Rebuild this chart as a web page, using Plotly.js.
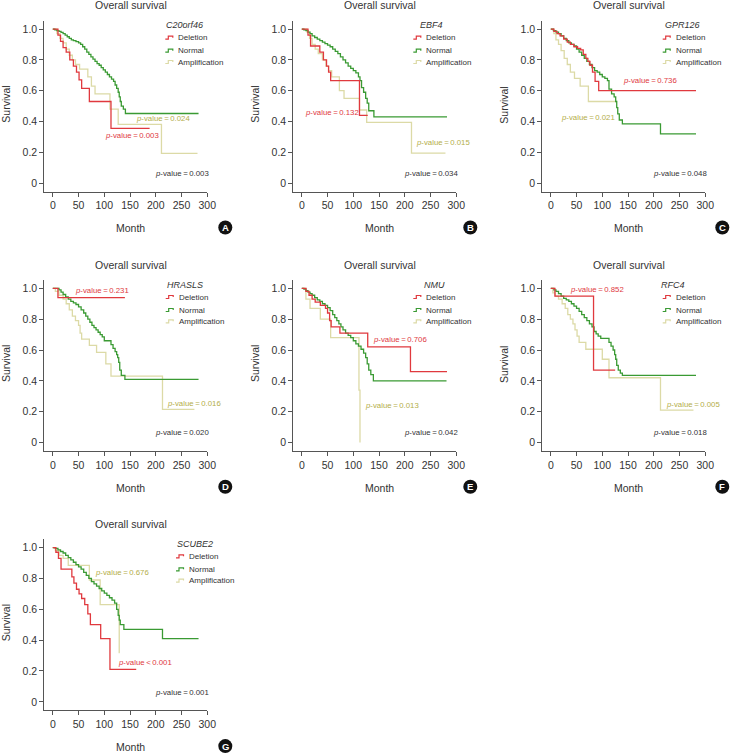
<!DOCTYPE html>
<html>
<head>
<meta charset="utf-8">
<script src="https://cdn.plot.ly/plotly-3.0.1.min.js"></script>
<style>
  html, body { margin: 0; padding: 0; background: #fff; }
  #chart { width: 731px; height: 754px; }
</style>
</head>
<body>
<div id="chart"></div>
<script>
// gene panels and groups
const genes = ['C20orf46', 'EBF4', 'GPR126', 'HRASLS', 'NMU', 'RFC4', 'SCUBE2'];
const panelLetters = ['A', 'B', 'C', 'D', 'E', 'F', 'G'];
const groups = ['Deletion', 'Normal', 'Amplification'];
const xTicks = [0, 50, 100, 150, 200, 250, 300];
const yTicks = [0, 0.2, 0.4, 0.6, 0.8, 1.0];
const yTickText = ['0', '0.2', '0.4', '0.6', '0.8', '1.0'];

// Kaplan-Meier steps (month, survival after the step)
// C20orf46
const aDelT = [10, 15, 20, 26, 33, 40, 46, 51, 56, 71, 113];
const aDelS = [0.96, 0.92, 0.88, 0.85, 0.80, 0.76, 0.72, 0.67, 0.615, 0.53, 0.356];
const aNormT = [4, 8, 12, 16, 20, 24, 28, 32, 36, 40, 45, 50, 54, 58, 62, 66, 70, 74, 78, 82, 86, 90, 94, 98, 102, 106, 110, 114, 118, 121, 124, 127, 129, 131, 133, 137, 141];
const aNormS = [0.995, 0.99, 0.985, 0.978, 0.97, 0.96, 0.95, 0.94, 0.93, 0.925, 0.918, 0.91, 0.9, 0.885, 0.87, 0.85, 0.835, 0.82, 0.805, 0.79, 0.775, 0.765, 0.75, 0.735, 0.72, 0.705, 0.69, 0.675, 0.66, 0.637, 0.615, 0.59, 0.56, 0.53, 0.5, 0.48, 0.452];
const aAmpT = [8, 14, 20, 26, 32, 38, 44, 52, 68, 75, 82, 111, 127, 211];
const aAmpS = [0.97, 0.94, 0.91, 0.87, 0.83, 0.80, 0.77, 0.74, 0.69, 0.63, 0.58, 0.48, 0.382, 0.194];
const aEnd = [188, 283, 281];

// EBF4
const bDelT = [12, 17, 35, 42, 48, 52, 56, 112];
const bDelS = [0.96, 0.89, 0.85, 0.80, 0.76, 0.72, 0.665, 0.44];
const bNormT = [4, 8, 12, 16, 20, 25, 30, 35, 40, 45, 50, 55, 60, 65, 70, 75, 80, 85, 90, 95, 100, 105, 110, 113, 116, 120, 124, 127, 130, 140];
const bNormS = [0.995, 0.99, 0.98, 0.97, 0.955, 0.945, 0.935, 0.925, 0.915, 0.905, 0.895, 0.885, 0.87, 0.855, 0.84, 0.82, 0.80, 0.78, 0.76, 0.745, 0.73, 0.715, 0.69, 0.665, 0.62, 0.59, 0.55, 0.52, 0.47, 0.43];
const bAmpT = [10, 15, 20, 26, 32, 40, 47, 52, 58, 73, 82, 112, 126, 213];
const bAmpS = [0.98, 0.94, 0.9, 0.87, 0.84, 0.8, 0.76, 0.73, 0.69, 0.6, 0.55, 0.475, 0.395, 0.195];
const bEnd = [128, 282, 279];

// GPR126
const cDelT = [6, 12, 18, 25, 32, 38, 45, 52, 58, 63, 68, 72, 76, 81, 86, 93];
const cDelS = [0.985, 0.97, 0.955, 0.935, 0.915, 0.9, 0.885, 0.875, 0.865, 0.835, 0.81, 0.79, 0.765, 0.72, 0.66, 0.60];
const cNormT = [5, 10, 15, 20, 25, 30, 35, 40, 45, 50, 55, 60, 65, 70, 75, 80, 85, 90, 95, 100, 105, 110, 113, 118, 123, 126, 128, 130, 133, 139, 213];
const cNormS = [0.99, 0.98, 0.97, 0.955, 0.94, 0.925, 0.91, 0.9, 0.89, 0.87, 0.85, 0.83, 0.81, 0.79, 0.77, 0.75, 0.73, 0.72, 0.705, 0.69, 0.68, 0.665, 0.61, 0.58, 0.56, 0.53, 0.49, 0.45, 0.41, 0.385, 0.32];
const cAmpT = [6, 10, 15, 20, 26, 32, 38, 46, 57, 73];
const cAmpS = [0.97, 0.93, 0.9, 0.86, 0.81, 0.77, 0.72, 0.68, 0.63, 0.53];
const cEnd = [282, 282, 128];

// HRASLS
const dDelT = [10];
const dDelS = [0.94];
const dNormT = [12, 16, 20, 25, 30, 35, 40, 45, 50, 55, 60, 64, 68, 72, 76, 80, 84, 88, 92, 96, 100, 113, 117, 121, 124, 126, 128, 130, 133, 140];
const dNormS = [0.99, 0.975, 0.96, 0.945, 0.93, 0.915, 0.905, 0.895, 0.88, 0.86, 0.84, 0.82, 0.80, 0.78, 0.76, 0.745, 0.73, 0.715, 0.7, 0.685, 0.66, 0.635, 0.61, 0.59, 0.57, 0.55, 0.52, 0.47, 0.435, 0.41];
const dAmpT = [5, 12, 20, 26, 32, 38, 44, 50, 53, 56, 71, 85, 103, 113, 213];
const dAmpS = [0.98, 0.955, 0.93, 0.9, 0.86, 0.82, 0.79, 0.76, 0.71, 0.67, 0.63, 0.585, 0.51, 0.43, 0.215];
const dEnd = [140, 283, 275];

// NMU
const eDelT = [8, 14, 20, 26, 36, 46, 50, 54, 57, 74, 128, 211];
const eDelS = [0.98, 0.955, 0.93, 0.91, 0.89, 0.87, 0.84, 0.79, 0.75, 0.71, 0.62, 0.46];
const eNormT = [4, 8, 12, 16, 20, 25, 30, 35, 40, 45, 50, 55, 60, 64, 68, 72, 76, 80, 85, 90, 95, 100, 105, 110, 115, 120, 124, 127, 130, 134, 139];
const eNormS = [0.995, 0.985, 0.975, 0.965, 0.955, 0.94, 0.925, 0.915, 0.9, 0.89, 0.875, 0.855, 0.83, 0.81, 0.79, 0.77, 0.75, 0.73, 0.71, 0.695, 0.68, 0.66, 0.64, 0.625, 0.605, 0.58, 0.55, 0.51, 0.47, 0.44, 0.40];
const eAmpT = [8, 16, 36, 56, 111, 113];
const eAmpS = [0.93, 0.87, 0.8, 0.68, 0.34, 0.0];
const eEnd = [282, 281, 113];

// RFC4
const fDelT = [8, 83];
const fDelS = [0.95, 0.47];
const fNormT = [6, 10, 15, 20, 25, 30, 35, 40, 45, 50, 55, 60, 65, 70, 75, 80, 84, 88, 92, 97, 113, 117, 121, 124, 126, 128, 131, 135, 139];
const fNormS = [0.99, 0.98, 0.965, 0.95, 0.935, 0.925, 0.915, 0.9, 0.885, 0.87, 0.85, 0.83, 0.81, 0.79, 0.77, 0.75, 0.72, 0.705, 0.69, 0.675, 0.65, 0.625, 0.6, 0.57, 0.54, 0.5, 0.47, 0.45, 0.435];
const fAmpT = [4, 9, 15, 22, 28, 33, 38, 43, 47, 51, 55, 68, 100, 113, 213];
const fAmpS = [0.97, 0.95, 0.93, 0.9, 0.87, 0.83, 0.8, 0.77, 0.73, 0.69, 0.65, 0.605, 0.54, 0.42, 0.21];
const fEnd = [125, 282, 277];

// SCUBE2
const gDelT = [6, 11, 16, 37, 41, 46, 51, 56, 62, 68, 73, 93, 111];
const gDelS = [0.97, 0.93, 0.86, 0.81, 0.77, 0.73, 0.7, 0.67, 0.63, 0.57, 0.5, 0.41, 0.21];
const gNormT = [5, 10, 15, 20, 25, 30, 35, 40, 45, 50, 55, 60, 65, 70, 75, 80, 85, 90, 95, 100, 105, 110, 115, 120, 124, 127, 129, 131, 138, 213];
const gNormS = [0.995, 0.985, 0.975, 0.965, 0.95, 0.935, 0.92, 0.905, 0.89, 0.875, 0.86, 0.84, 0.82, 0.8, 0.78, 0.765, 0.75, 0.735, 0.72, 0.705, 0.69, 0.675, 0.66, 0.64, 0.6, 0.56, 0.53, 0.5, 0.47, 0.41];
const gAmpT = [5, 12, 20, 30, 71, 92, 129];
const gAmpS = [0.98, 0.95, 0.93, 0.885, 0.79, 0.63, 0.32];
const gEnd = [162, 283, 130];

// p-values per panel: overall, deletion vs normal, amplification vs normal
const pOverall = ['0.003', '0.034', '0.048', '0.020', '0.042', '0.018', '0.001'];
const pDeletion = ['0.003', '0.132', '0.736', '0.231', '0.706', '0.852', '<0.001'];
const pAmplification = ['0.024', '0.015', '0.021', '0.016', '0.013', '0.005', '0.676'];

// ---- layout bits (positions only) ----
const W = 731, H = 754;
const colLeft = [44.3, 293.3, 542.3];
const rowTop = [20.7, 280, 539.3];
const plotW = 163, plotH = 171;
const colors = ['#e0393e', '#3a9a33', '#dcdaa6'];
const ampText = '#b4ae48';
const font = 'Liberation Sans, Arial, sans-serif';

// where the p-value labels sit, in data units [overall, deletion, amplification]
const pPos = [
  [[194, 0.065], [97, 0.308], [158.5, 0.421]],
  [[195, 0.065], [2, 0.458], [217, 0.263]],
  [[195, 0.065], [137, 0.665], [16, 0.428]],
  [[194, 0.063], [39, 0.985], [217, 0.253]],
  [[195, 0.063], [133.5, 0.665], [118, 0.242]],
  [[195, 0.063], [33, 0.993], [220, 0.249]],
  [[194, 0.0625], [123, 0.252], [79, 0.838]]
];
// legend offsets from the panel corner: glyph x, gene name centre x
const legX = [121, 120, 120.4, 121.4, 120, 120.4, 131.7];
const legTitleX = [140.5, 138.3, 140.2, 140.7, 141.5, 131, 151.2];
const badgeX = [181, 177, 180];

const curves = [
  [[aDelT, aDelS], [aNormT, aNormS], [aAmpT, aAmpS], aEnd],
  [[bDelT, bDelS], [bNormT, bNormS], [bAmpT, bAmpS], bEnd],
  [[cDelT, cDelS], [cNormT, cNormS], [cAmpT, cAmpS], cEnd],
  [[dDelT, dDelS], [dNormT, dNormS], [dAmpT, dAmpS], dEnd],
  [[eDelT, eDelS], [eNormT, eNormS], [eAmpT, eAmpS], eEnd],
  [[fDelT, fDelS], [fNormT, fNormS], [fAmpT, fAmpS], fEnd],
  [[gDelT, gDelS], [gNormT, gNormS], [gAmpT, gAmpS], gEnd]
];

const fx = x => x / W;
const fy = y => 1 - y / H;

const traces = [];
const annotations = [];
const shapes = [];
const layout = {
  width: W, height: H,
  margin: { l: 0, r: 0, t: 0, b: 0 },
  paper_bgcolor: '#fff', plot_bgcolor: '#fff',
  font: { family: font, color: '#333' },
  showlegend: false
};

function pText(v) {
  const op = v[0] === '<' ? '<' : '=';
  return '<i>p</i>-value\u2009' + op + '\u2009' + v.replace('<', '');
}

genes.forEach((gene, i) => {
  const n = i + 1;
  const left = colLeft[i % 3];
  const top = rowTop[Math.floor(i / 3)];
  const xa = 'x' + n, ya = 'y' + n;

  layout['xaxis' + n] = {
    domain: [fx(left), fx(left + plotW)],
    range: [-16.5, 300], anchor: ya,
    tickvals: xTicks, ticks: 'outside', ticklen: 4, tickcolor: '#555',
    showline: true, linecolor: '#555', linewidth: 1,
    showgrid: false, zeroline: false,
    tickfont: { size: 10.5, color: '#333' }
  };
  layout['yaxis' + n] = {
    domain: [fy(top + plotH), fy(top)],
    range: [-0.055, 1.054], anchor: xa,
    tickvals: yTicks, ticktext: yTickText, ticks: 'outside', ticklen: 4, tickcolor: '#555',
    showline: true, linecolor: '#555', linewidth: 1,
    showgrid: false, zeroline: false,
    tickfont: { size: 10.5, color: '#333' }
  };

  // curves: amplification under normal under deletion
  const c = curves[i];
  [2, 1, 0].forEach(g => {
    const t = c[g][0], s = c[g][1];
    traces.push({
      x: [0].concat(t, [c[3][g]]),
      y: [1].concat(s, [s[s.length - 1]]),
      type: 'scatter', mode: 'lines', name: groups[g],
      line: { shape: 'hv', color: colors[g], width: 1.3 },
      xaxis: xa, yaxis: ya, hoverinfo: 'x+y+name'
    });
  });

  // panel title, axis titles
  annotations.push({
    text: 'Overall survival', xref: 'paper', yref: 'paper',
    x: fx(left + 86.5), y: fy(top - 15.5), xanchor: 'center', yanchor: 'middle',
    showarrow: false, font: { size: 10.5, color: '#333' }
  });
  annotations.push({
    text: 'Survival', xref: 'paper', yref: 'paper', textangle: -90,
    x: fx(left - 38.3), y: fy(top + 84), xanchor: 'center', yanchor: 'middle',
    showarrow: false, font: { size: 10.5, color: '#333' }
  });
  annotations.push({
    text: 'Month', xref: 'paper', yref: 'paper',
    x: fx(left + 86), y: fy(top + plotH + 36.5), xanchor: 'center', yanchor: 'middle',
    showarrow: false, font: { size: 10.5, color: '#333' }
  });

  // legend drawn by hand so rows sit close like the original
  annotations.push({
    text: '<i>' + gene + '</i>', xref: 'paper', yref: 'paper',
    x: fx(left + legTitleX[i]), y: fy(top + 4.5), xanchor: 'center', yanchor: 'middle',
    showarrow: false, font: { size: 9, color: '#333' }
  });
  const rows = [17, 30, 41.3];
  groups.forEach((g, k) => {
    const gx = left + legX[i], gyy = top + rows[k];
    shapes.push({
      type: 'path', xref: 'paper', yref: 'paper',
      path: 'M ' + fx(gx) + ',' + fy(gyy + 1.5) + ' H ' + fx(gx + 3) +
            ' V ' + fy(gyy - 1.5) + ' H ' + fx(gx + 7.5) + ' V ' + fy(gyy),
      line: { color: colors[k], width: 1.2 }
    });
    annotations.push({
      text: g, xref: 'paper', yref: 'paper',
      x: fx(gx + 11), y: fy(gyy), xanchor: 'left', yanchor: 'middle',
      showarrow: false, font: { size: 8, color: '#333' }
    });
  });

  // p-values
  const pv = [pOverall[i], pDeletion[i], pAmplification[i]];
  const pc = ['#333', colors[0], ampText];
  pv.forEach((v, k) => {
    annotations.push({
      text: pText(v), xref: xa, yref: ya,
      x: pPos[i][k][0], y: pPos[i][k][1], xanchor: 'left', yanchor: 'middle',
      showarrow: false, font: { size: 7.8, color: pc[k] }
    });
  });

  // letter badge
  const bx = left + badgeX[i % 3], by = top + plotH + 35.8, r = 7;
  shapes.push({
    type: 'circle', xref: 'paper', yref: 'paper',
    x0: fx(bx - r), x1: fx(bx + r), y0: fy(by + r), y1: fy(by - r),
    fillcolor: '#111', line: { color: '#111', width: 0 }
  });
  annotations.push({
    text: '<b>' + panelLetters[i] + '</b>', xref: 'paper', yref: 'paper',
    x: fx(bx), y: fy(by), xanchor: 'center', yanchor: 'middle',
    showarrow: false, font: { size: 9.5, color: '#fff' }
  });
});

layout.annotations = annotations;
layout.shapes = shapes;

Plotly.newPlot('chart', traces, layout, { displayModeBar: false, staticPlot: true });
</script>
</body>
</html>
